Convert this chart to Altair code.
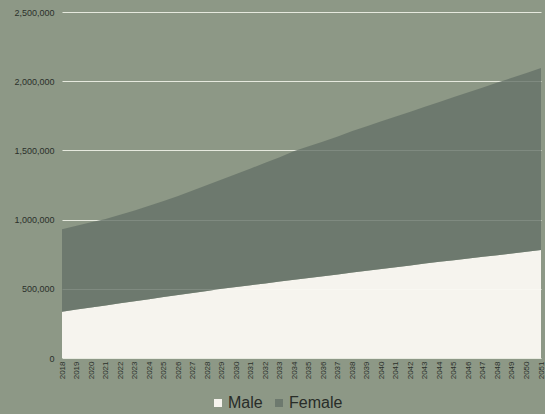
import altair as alt
import pandas as pd

# Population projection by sex, 2018-2051
years = list(range(2018, 2052))
male = [335000, 350000, 365000, 380000, 395000, 410000, 425000, 440000, 455000, 470000,
        485000, 500000, 513000, 526000, 539000, 552000, 565000, 578000, 591000, 604000,
        617000, 630000, 643000, 656000, 669000, 682000, 695000, 707000, 719000, 731000,
        743000, 755000, 767000, 780000]
total = [930000, 955000, 980000, 1005000, 1035000, 1065000, 1100000, 1135000, 1170000, 1210000,
         1250000, 1290000, 1330000, 1370000, 1410000, 1450000, 1495000, 1530000, 1565000, 1600000,
         1640000, 1675000, 1710000, 1745000, 1780000, 1815000, 1850000, 1885000, 1920000, 1955000,
         1990000, 2025000, 2060000, 2095000]
female = [t - m for t, m in zip(total, male)]
y_ticks = [0, 500000, 1000000, 1500000, 2000000, 2500000]

rows = []
for y, m, f in zip(years, male, female):
    rows.append({"year": str(y), "sex": "Male", "value": m, "rank": 0})
    rows.append({"year": str(y), "sex": "Female", "value": f, "rank": 1})
df = pd.DataFrame(rows)

BG = "#8d9886"
chart = (
    alt.Chart(df)
    .mark_area(interpolate="linear")
    .encode(
        x=alt.X(
            "year:O",
            scale=alt.Scale(type="point", padding=0),
            axis=alt.Axis(
                title=None, labelAngle=270, labelFontSize=8, labelColor="#2b302b",
                labelFont="Liberation Sans", ticks=False, domain=False, grid=False,
                labelPadding=3,
            ),
        ),
        y=alt.Y(
            "value:Q",
            stack="zero",
            scale=alt.Scale(domain=[0, 2500000], nice=False),
            axis=alt.Axis(
                title=None, values=y_ticks, format=",.0f", labelFontSize=9,
                labelColor="#2b302b", labelFont="Liberation Sans", ticks=False,
                domain=False, gridColor="#e6e9de", gridWidth=1.2, labelPadding=8,
            ),
        ),
        color=alt.Color(
            "sex:N",
            scale=alt.Scale(domain=["Male", "Female"], range=["#faf8f2", "#657268"]),
            legend=alt.Legend(
                title=None, orient="none", direction="horizontal",
                legendX=148, legendY=383, symbolType="square", symbolSize=64,
                symbolStrokeWidth=0, labelFontSize=16, labelFont="Liberation Sans",
                labelColor="#282c28", columnPadding=8, labelOffset=2,
            ),
        ),
        opacity=alt.Opacity(
            "sex:N",
            scale=alt.Scale(domain=["Male", "Female"], range=[0.96, 0.8]),
            legend=None,
        ),
        order=alt.Order("rank:Q"),
    )
    .properties(
        width=479,
        height=346,
        background=BG,
        autosize=alt.AutoSizeParams(type="none"),
        padding={"left": 62, "top": 12, "right": 4, "bottom": 56},
    )
    .configure_view(stroke=None)
)

chart.save("out.html", embed_options={"renderer": "svg", "actions": False})
